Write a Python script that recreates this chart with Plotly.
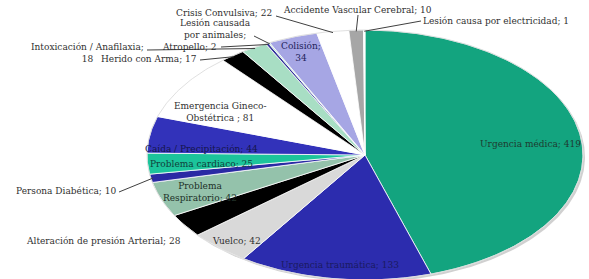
import numpy as np
import plotly.graph_objects as go

# ---- data ----
categories = [
    "Urgencia médica", "Urgencia traumática", "Vuelco", "Alteración de presión Arterial",
    "Problema Respiratorio", "Persona Diabética", "Problema cardiaco", "Caída / Precipitación",
    "Emergencia Gineco-Obstétrica", "Herido con Arma", "Intoxicación / Anafilaxia",
    "Atropello", "Lesión causada por animales", "Colisión", "Crisis Convulsiva",
    "Accidente Vascular Cerebral", "Lesión causa por electricidad",
]
values = [419, 133, 42, 28, 42, 10, 25, 44, 81, 17, 18, 2, 1, 34, 22, 10, 1]
label_texts = [
    "Urgencia médica; 419", "Urgencia traumática; 133", "Vuelco; 42",
    "Alteración de presión Arterial; 28", "Problema<br>Respiratorio; 42",
    "Persona Diabética; 10", "Problema cardiaco; 25", "Caída / Precipitación; 44",
    "Emergencia Gineco-<br>Obstétrica ; 81", "Herido con Arma; 17",
    "Intoxicación / Anafilaxia;<br>18", "Atropello; 2", "Lesión causada<br>por animales;",
    "Colisión;<br>34", "Crisis Convulsiva; 22", "Accidente Vascular Cerebral; 10",
    "Lesión causa por electricidad; 1",
]
colors = [
    "#13A47F", "#2C2CAE", "#D9D9D9", "#000000", "#94C2AB", "#2A2AA4", "#1CC49B",
    "#3232BA", "#FFFFFF", "#000000", "#A8DEC4", "#34349C", "#A8DEC4", "#A6A6E4",
    "#FFFFFF", "#A6A6A6", "#FFFFFF",
]

# ---- layout / style (pixel-like axes) ----
W, H = 589, 279
cx, cy, rx, ry = 365, 155, 218, 125
FONT_SIZE = 9

# label placement: (x, y, xanchor, leader start x, leader start y or None)
label_pos = [
    (530, 144, "center", None, None),
    (340, 265, "center", None, None),
    (236, 241, "center", None, None),
    (182, 241, "right", None, None),
    (200, 192, "center", None, None),
    (117, 191, "right", 119, 192),
    (201, 164, "center", None, None),
    (201, 149, "center", None, None),
    (220, 112, "center", None, None),
    (198, 59, "right", 200, 60),
    (145, 53, "right", 147, 50),
    (218, 47, "right", 221, 47),
    (215, 29, "center", 254, 36),
    (301, 52, "center", None, None),
    (273, 13, "right", 276, 16),
    (357, 10, "center", 358, 15),
    (422, 21, "left", 421, 21),
]
text_colors = ["#1E3A30", "#1A1A60", "#303030", "#303030", "#203028", "#303030",
               "#10403A", "#15154A", "#303030", "#303030", "#303030", "#303030",
               "#303030", "#22225A", "#303030", "#303030", "#303030"]

total = sum(values)
cum = np.concatenate([[0], np.cumsum(values)])
angles = cum / total * 2 * np.pi  # clockwise from 12 o'clock


def ell(theta, f=1.0):
    return cx + f * rx * np.sin(theta), cy - f * ry * np.cos(theta)


fig = go.Figure()

# soft shadow
t = np.linspace(0, 2 * np.pi, 400)
sx, sy = ell(t)
fig.add_trace(go.Scatter(x=sx + 2, y=sy + 2, fill="toself", mode="lines",
                         line=dict(color="rgba(0,0,0,0)", width=0),
                         fillcolor="rgba(120,120,120,0.35)", hoverinfo="skip",
                         showlegend=False))

for i, (cat, v) in enumerate(zip(categories, values)):
    a0, a1 = angles[i], angles[i + 1]
    n = max(3, int((a1 - a0) / (np.pi / 360)) + 2)
    th = np.linspace(a0, a1, n)
    ex, ey = ell(th)
    xs = np.concatenate([[cx], ex, [cx]])
    ys = np.concatenate([[cy], ey, [cy]])
    fig.add_trace(go.Scatter(x=xs, y=ys, fill="toself", mode="lines",
                             line=dict(color="#FFFFFF", width=0.8),
                             fillcolor=colors[i], name=cat, hoverinfo="name",
                             showlegend=False))

# faint outline
fig.add_trace(go.Scatter(x=sx, y=sy, mode="lines", line=dict(color="#D8D8D8", width=0.8),
                         hoverinfo="skip", showlegend=False))

# leaders + labels
for i in range(len(values)):
    lx, ly, anc, sx0, sy0 = label_pos[i]
    if sx0 is not None:
        mid = (angles[i] + angles[i + 1]) / 2
        ax_, ay_ = ell(mid, 0.99)
        fig.add_trace(go.Scatter(x=[sx0, ax_], y=[sy0, ay_], mode="lines",
                                 line=dict(color="#404040", width=1),
                                 hoverinfo="skip", showlegend=False))
    fig.add_annotation(x=lx, y=ly, text=label_texts[i], showarrow=False,
                       xanchor=anc, yanchor="middle", align="center", borderpad=0,
                       font=dict(family="DejaVu Serif", size=FONT_SIZE,
                                 color=text_colors[i]))

fig.update_xaxes(range=[0, W], visible=False, fixedrange=True)
fig.update_yaxes(range=[H, 0], visible=False, fixedrange=True)
fig.update_layout(width=W, height=H, margin=dict(l=0, r=0, t=0, b=0),
                  paper_bgcolor="white", plot_bgcolor="white", showlegend=False)

fig.write_html("out.html", config={"displayModeBar": False},
               post_script="document.body.style.margin='0';")
